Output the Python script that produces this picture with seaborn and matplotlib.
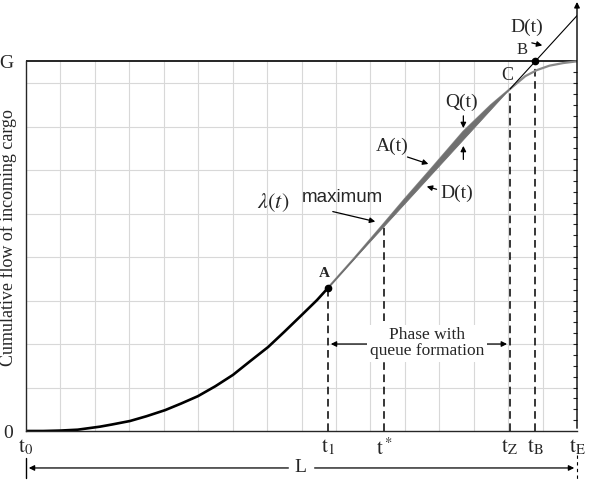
import numpy as np
import matplotlib
matplotlib.use("Agg")
import matplotlib.pyplot as plt
import seaborn as sns

# arrival curve A(t) (x in grid units, y in grid units)
t_arr = [0, 0.5, 1, 1.5, 2.15, 2.5, 3.02, 3.5, 4.04, 4.5, 4.99, 5.5, 6.01, 6.5, 7.03, 7.5,
         8.01, 8.45, 8.77, 9.5, 10.4, 11.0, 11.73, 12.7, 13.5, 14.05, 14.5, 14.84, 15.2, 15.6, 16]
v_arr = [0, 0, 0.01, 0.03, 0.10, 0.15, 0.23, 0.34, 0.48, 0.63, 0.80, 1.03, 1.29, 1.60, 1.93, 2.28,
         2.67, 3.01, 3.29, 3.94, 4.77, 5.33, 5.99, 6.88, 7.49, 7.86, 8.16, 8.30, 8.40, 8.46, 8.5]

# departure line D(t) (capacity)
d_t = [8.77, 14.05, 16]
d_v = [3.29, 7.86, 9.55]

G = 8.5
t_pos = [0, 8.77, 10.4, 14.05, 14.78, 16]
t_labels = [r'$\mathrm{t}_0$', r'$\mathrm{t}_1$', r'$\mathrm{t}^*$', r'$\mathrm{t}_\mathrm{Z}$',
            r'$\mathrm{t}_\mathrm{B}$', r'$\mathrm{t}_\mathrm{E}$']
pt_A = (8.77, 3.29)
pt_C = (14.05, 7.86)
pt_B = (14.78, G)

sns.set_style("white")
plt.rcParams['font.family'] = ['Liberation Serif', 'DejaVu Serif']
plt.rcParams['mathtext.fontset'] = 'stix'

fig = plt.figure(figsize=(5.9, 4.9), dpi=100)
ax = fig.add_axes([26/590, 59/490, 551/590, 431/490])
ax.set_xlim(0, 16)
ax.set_ylim(0, 9.91)

# grid (only inside the box up to G)
ax.vlines(range(1, 16), 0, G, color='#d8d8d8', lw=0.8, zorder=0)
ax.hlines(range(1, 9), 0, 16, color='#d8d8d8', lw=0.8, zorder=0)
ax.hlines(G, 0, 16, color='black', lw=1.2, zorder=1)

# dashed markers
for tp, top in [(8.77, 3.29), (10.4, 4.78), (14.05, 7.86), (14.78, G)]:
    ax.vlines(tp, 0, top, color='black', lw=1.1, linestyles=(0, (5, 3)), zorder=2)

t_a = np.array(t_arr)
v_a = np.array(v_arr)
low = t_a <= 8.77
sns.lineplot(x=t_a[low], y=v_a[low], ax=ax, color='black', lw=1.9, estimator=None, sort=False)
high = t_a >= 8.77
sns.lineplot(x=t_a[high], y=v_a[high], ax=ax, color='#8a8a8a', lw=1.6, estimator=None, sort=False)

# queue band between A(t) and D(t)
band = (t_a >= 8.77) & (t_a <= 14.05)
ax.fill(t_a[band], v_a[band], color='#707070', lw=0.6, ec='#707070', zorder=3)
sns.lineplot(x=d_t[1:], y=d_v[1:], ax=ax, color='black', lw=0.8, estimator=None, sort=False)

ax.plot(*pt_A, 'o', color='black', ms=4.5, zorder=5)
ax.plot(*pt_B, 'o', color='black', ms=4.5, zorder=5)

# axes styling
for s in ['top', 'right']:
    ax.spines[s].set_visible(False)
ax.spines['left'].set_bounds(0, G)
ax.spines['left'].set_linewidth(1.0)
ax.spines['bottom'].set_linewidth(1.0)
ax.set_xticks(t_pos, labels=t_labels, fontsize=15)
ax.set_yticks([0, G], labels=['0', 'G'], fontsize=14)
ax.set_xticks(np.arange(0, 16.01, 1/3), minor=True)
ax.set_yticks(np.arange(0, G + 0.01, 0.25), minor=True)
ax.tick_params(which='major', length=0, pad=4)
ax.tick_params(axis='x', which='major', pad=5)
ax.tick_params(axis='y', which='major', pad=9)
ax.tick_params(which='minor', direction='in', length=3, width=0.8, right=True)

ax.annotate('', xy=(16, 9.93), xytext=(16, 0), annotation_clip=False,
            arrowprops=dict(arrowstyle='-|>', color='black', lw=1.0, mutation_scale=8))

fig.text(8/590, 1 - 238/490, 'Cumulative flow of incoming cargo', rotation=90,
         ha='center', va='center', fontsize=13)

arr = dict(arrowstyle='-|>', color='black', lw=0.9, mutation_scale=8)
ax.text(8.65, 3.62, 'A', fontsize=11, fontweight='bold', ha='center', va='center')
ax.text(13.97, 8.18, 'C', fontsize=13, ha='center', va='center')
ax.text(14.4, 8.76, 'B', fontsize=12, ha='center', va='center')
ax.text(14.55, 9.29, 'D(t)', fontsize=14, ha='center', va='center')
ax.annotate('', xy=(15.07, 8.85), xytext=(14.61, 8.94), arrowprops=arr)
ax.text(12.66, 7.56, 'Q(t)', fontsize=14, ha='center', va='center')
ax.annotate('', xy=(12.7, 6.9), xytext=(12.7, 7.31), arrowprops=arr)
ax.annotate('', xy=(12.7, 6.62), xytext=(12.7, 6.18), arrowprops=arr)
ax.text(10.63, 6.55, 'A(t)', fontsize=14, ha='center', va='center')
ax.annotate('', xy=(11.76, 6.12), xytext=(11.0, 6.32), arrowprops=arr)
ax.text(12.5, 5.47, 'D(t)', fontsize=14, ha='center', va='center')
ax.annotate('', xy=(11.56, 5.64), xytext=(12.0, 5.54), arrowprops=arr)
ax.text(7.17, 5.26, r'$\lambda(t)$', fontsize=16, ha='center', va='center')
ax.text(9.2, 5.36, 'maximum', fontsize=13.5, ha='center', va='center', family='Liberation Sans')
ax.annotate('', xy=(10.22, 4.8), xytext=(8.83, 5.06), arrowprops=arr)

ax.text(11.64, 2.02, 'Phase with\nqueue formation', fontsize=12.5, ha='center', va='center',
        linespacing=1.0, zorder=6,
        bbox=dict(boxstyle='square,pad=0.15', fc='white', ec='none'))
ax.annotate('', xy=(8.77, 2.0), xytext=(10.05, 2.0), arrowprops=arr)
ax.annotate('', xy=(14.05, 2.0), xytext=(12.69, 2.0), arrowprops=arr)

# length L of the period
yL = -0.85
ax.annotate('', xy=(0, yL), xytext=(7.7, yL), annotation_clip=False, arrowprops=arr)
ax.annotate('', xy=(16, yL), xytext=(8.3, yL), annotation_clip=False, arrowprops=arr)
ax.plot([0, 0], [yL - 0.22, yL + 0.22], color='black', lw=1.0, clip_on=False)
ax.plot([16, 16], [-0.55, -1.1], color='black', lw=0.8, ls=(0, (3, 3)), clip_on=False)
ax.text(7.96, yL, 'L', fontsize=14, ha='center', va='center')

fig.savefig('out.png', dpi=100)
